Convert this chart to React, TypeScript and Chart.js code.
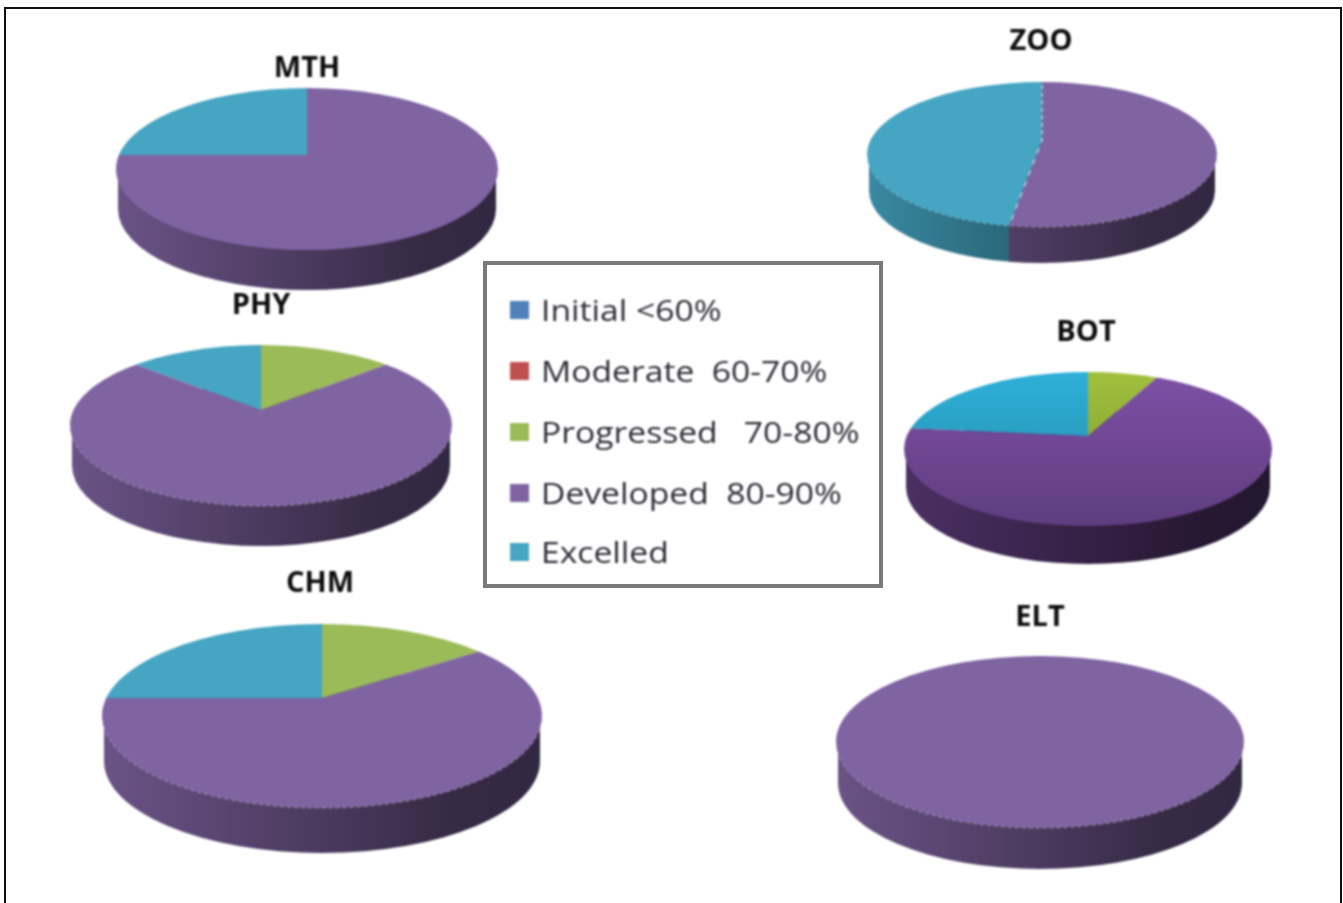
import React, { useEffect, useRef } from "react";
import { Chart, registerables } from "chart.js";

Chart.register(...registerables);

const categories = ["Initial <60%", "Moderate  60-70%", "Progressed   70-80%", "Developed  80-90%", "Excelled"];
const palette = ["#4f81bd", "#c0504d", "#9bbb59", "#8064a2", "#45a5c2"];
const vividPalette = ["#4f81bd", "#c0504d", "#a0c03c", "#7d50a6", "#2eb0d8"];

const mthValues = [0, 0, 0, 75, 25];
const phyValues = [0, 0, 12, 76, 12];
const chmValues = [0, 0, 13.5, 61.5, 25];
const zooValues = [0, 0, 0, 53, 47];
const botValues = [0, 0, 6.2, 70.8, 23];
const eltValues = [0, 0, 0, 100, 0];

type Pie = {
  title: string; values: number[]; colors: string[]; titleY: number; titleDx: number;
  cx: number; rx: number; apex: number; top: number; bottom: number; depth: number;
  rim: boolean; seams: boolean; shade: number; wallK: number;
};

const pies: Pie[] = [
  { title: "MTH", values: mthValues, colors: palette, titleY: 66, titleDx: 0, cx: 307, rx: 191, apex: 155, top: 88, bottom: 250, depth: 40, rim: false, seams: false, shade: 0, wallK: 1 },
  { title: "PHY", values: phyValues, colors: palette, titleY: 303, titleDx: 0, cx: 261, rx: 191, apex: 410, top: 345, bottom: 506, depth: 40, rim: true, seams: false, shade: 0, wallK: 1 },
  { title: "CHM", values: chmValues, colors: palette, titleY: 581, titleDx: -2, cx: 322, rx: 220, apex: 698, top: 624, bottom: 808, depth: 45, rim: true, seams: false, shade: 0, wallK: 1 },
  { title: "ZOO", values: zooValues, colors: palette, titleY: 39, titleDx: -1, cx: 1042, rx: 175, apex: 140, top: 82, bottom: 227, depth: 36, rim: true, seams: true, shade: 0, wallK: 1 },
  { title: "BOT", values: botValues, colors: vividPalette, titleY: 330, titleDx: -2, cx: 1088, rx: 184, apex: 436, top: 372, bottom: 526, depth: 38, rim: false, seams: false, shade: 0.24, wallK: 0.72 },
  { title: "ELT", values: eltValues, colors: palette, titleY: 615, titleDx: 0, cx: 1040, rx: 204, apex: 725, top: 656, bottom: 828, depth: 41, rim: true, seams: false, shade: 0, wallK: 1 },
];

const rgb = (hex: string) => [1, 3, 5].map((i) => parseInt(hex.slice(i, i + 2), 16));
const dim = (hex: string, k: number) => `rgb(${rgb(hex).map((v) => Math.round(v * k)).join(",")})`;

const TITLE_LIFT = 15;

const pie3d = {
  id: "pie3d",
  beforeDatasetsDraw(chart: any, _a: any, opts: any) {
    const g: Pie = opts.pie;
    if (!g) return;
    const ctx: CanvasRenderingContext2D = chart.ctx;
    const meta = chart.getDatasetMeta(0);
    const arcs = meta.data;
    const R = arcs[0].outerRadius;
    const colors: string[] = g.colors;
    const left = g.cx + g.titleDx - chart.width / 2;
    const offTop = g.titleY - TITLE_LIFT;
    const cx = g.cx - left;
    const ay = g.apex - offTop;
    const top = g.top - offTop;
    const bottom = g.bottom - offTop;
    const cE = (top + bottom) / 2;
    const ryE = (bottom - top) / 2;
    const rx = g.rx;
    const k = 1.35;

    const hit = (theta: number) => {
      const dx = rx * Math.cos(theta);
      const dy = (bottom - ay) * Math.sin(theta);
      const a = (dx * dx) / (rx * rx) + (dy * dy) / (ryE * ryE);
      const c0 = (ay - cE) / ryE;
      const b = (2 * dy * c0) / ryE;
      const c = c0 * c0 - 1;
      const t = (-b + Math.sqrt(b * b - 4 * a * c)) / (2 * a);
      return cx + t * dx;
    };

    // side wall, one band per slice
    const TAU = Math.PI * 2;
    arcs.forEach((arc: any, i: number) => {
      if (arc.circumference <= 0) return;
      const s = Math.max(arc.startAngle, 0);
      const e = Math.min(arc.endAngle, Math.PI);
      if (e <= s) return;
      const x2 = s <= 0 ? cx + rx + 2 : hit(s);
      const x1 = e >= Math.PI ? cx - rx - 2 : hit(e);
      ctx.save();
      ctx.beginPath();
      ctx.rect(x1, 0, x2 - x1, chart.height);
      ctx.clip();
      const grad = ctx.createLinearGradient(cx - rx, 0, cx + rx, 0);
      const w = g.wallK;
      grad.addColorStop(0, dim(colors[i], 0.83 * w));
      grad.addColorStop(0.5, dim(colors[i], 0.58 * w));
      grad.addColorStop(0.8, dim(colors[i], 0.42 * w));
      grad.addColorStop(1, dim(colors[i], 0.4 * w));
      ctx.fillStyle = grad;
      ctx.beginPath();
      ctx.ellipse(cx, cE + g.depth, rx - 2, ryE, 0, 0, TAU);
      ctx.fill();
      ctx.fillRect(cx - rx + 2, cE, 2 * rx - 4, g.depth);
      ctx.restore();
    });

    // top face: the library's own arcs, flattened above and below the apex
    const halves = [
      { y0: 0, y1: ay + 0.5, ry: ay - top },
      { y0: ay - 0.5, y1: chart.height, ry: bottom - ay },
    ];
    for (const h of halves) {
      ctx.save();
      ctx.beginPath();
      ctx.ellipse(cx, cE, rx, ryE, 0, 0, TAU);
      ctx.clip();
      ctx.beginPath();
      ctx.rect(0, h.y0, chart.width, h.y1 - h.y0);
      ctx.clip();
      ctx.translate(cx, ay);
      ctx.scale((k * rx) / R, (k * h.ry) / R);
      ctx.translate(-arcs[0].x, -arcs[0].y);
      arcs.forEach((arc: any) => arc.draw(ctx));
      ctx.restore();
    }

    if (g.shade > 0) {
      ctx.save();
      ctx.beginPath();
      ctx.ellipse(cx, cE, rx, ryE, 0, 0, TAU);
      const sh = ctx.createLinearGradient(0, top, 0, bottom);
      sh.addColorStop(0, "rgba(0,0,0,0)");
      sh.addColorStop(1, `rgba(0,0,0,${g.shade})`);
      ctx.fillStyle = sh;
      ctx.fill();
      ctx.restore();
    }

    if (g.rim) {
      ctx.save();
      ctx.beginPath();
      ctx.ellipse(cx, cE, rx, ryE, 0, 0, Math.PI);
      ctx.strokeStyle = "rgba(255,255,255,0.45)";
      ctx.lineWidth = 1;
      ctx.setLineDash([3, 4]);
      ctx.stroke();
      ctx.restore();
    }
    return false;
  },
};

function PieChart({ pie }: { pie: Pie }) {
  const ref = useRef<HTMLCanvasElement>(null);
  useEffect(() => {
    const chart = new Chart(ref.current as HTMLCanvasElement, {
      type: "pie",
      plugins: [pie3d],
      data: {
        labels: categories,
        datasets: [{
          data: pie.values,
          backgroundColor: pie.colors,
          borderWidth: pie.seams ? 0.6 : 0,
          borderColor: "rgba(255,255,255,0.6)",
          borderDash: [4, 6],
        }],
      },
      options: {
        responsive: false,
        animation: false,
        devicePixelRatio: 1,
        layout: { padding: 0 },
        plugins: {
          legend: { display: false },
          tooltip: { enabled: false },
          title: {
            display: true,
            text: pie.title,
            color: "#0c0c0c",
            font: { family: "'Open Sans'", weight: "bold", size: 29, lineHeight: 1.24 },
            padding: 0,
          },
          pie3d: { pie },
        },
      },
    } as any);
    return () => chart.destroy();
  }, [pie]);
  const width = pie.rx * 2 + 14;
  const y = pie.titleY - TITLE_LIFT;
  return (
    <canvas
      ref={ref}
      width={width}
      height={pie.bottom + pie.depth + 6 - y}
      style={{ position: "absolute", left: pie.cx + pie.titleDx - width / 2, top: y }}
    />
  );
}

const legendRows = [310, 371, 432, 493, 552];
const layer: React.CSSProperties = { position: "absolute", left: 0, top: 0, width: 1343, height: 903, filter: "blur(0.8px)" };

export default function App() {
  return (
    <div style={{ position: "fixed", left: 0, top: 0, width: 1343, height: 903, overflow: "hidden", background: "#fff" }}>
      <div style={{ position: "absolute", left: 4, top: 7, width: 1334, height: 1000, border: "2.5px solid #111" }} />
      <div style={layer}>
        {pies.map((p) => <PieChart key={p.title} pie={p} />)}
      </div>
      <div style={{ position: "absolute", left: 483, top: 261, width: 392, height: 319, border: "4px solid #7a7a7a", background: "#fff" }} />
      <div style={layer}>
        {categories.map((c, i) => (
          <React.Fragment key={c}>
            <div style={{ position: "absolute", left: 510, top: legendRows[i] - 9, width: 19, height: 18, background: palette[i] }} />
            <div style={{ position: "absolute", left: 541, top: legendRows[i] - 20, height: 40, whiteSpace: "pre", font: "29px/40px 'Open Sans', sans-serif", color: "#2a2a34", transform: "scaleX(1.16)", transformOrigin: "left center" }}>{c}</div>
          </React.Fragment>
        ))}
      </div>
    </div>
  );
}
